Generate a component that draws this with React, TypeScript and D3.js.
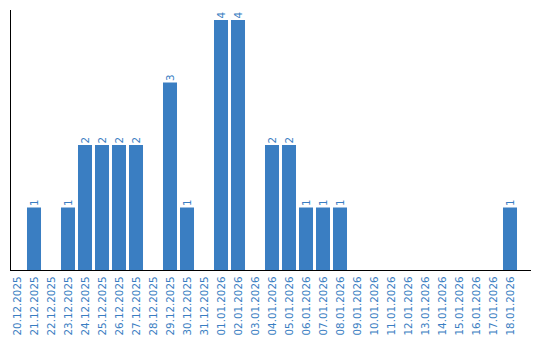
import React from "react";
import * as d3 from "d3";

const dates = [
  "20.12.2025", "21.12.2025", "22.12.2025", "23.12.2025", "24.12.2025",
  "25.12.2025", "26.12.2025", "27.12.2025", "28.12.2025", "29.12.2025",
  "30.12.2025", "31.12.2025", "01.01.2026", "02.01.2026", "03.01.2026",
  "04.01.2026", "05.01.2026", "06.01.2026", "07.01.2026", "08.01.2026",
  "09.01.2026", "10.01.2026", "11.01.2026", "12.01.2026", "13.01.2026",
  "14.01.2026", "15.01.2026", "16.01.2026", "17.01.2026", "18.01.2026",
];
const counts = [
  0, 1, 0, 1, 2,
  2, 2, 2, 0, 3,
  1, 0, 4, 4, 0,
  2, 2, 1, 1, 1,
  0, 0, 0, 0, 0,
  0, 0, 0, 0, 1,
];

const W = 540;
const H = 340;
const BLUE = "#3a7ec2";
const FONT = "DejaVu Sans, Verdana, sans-serif";

export default function App() {
  const x = d3.scaleBand<string>().domain(dates).range([8.5, 518.5]).paddingInner(0.176).paddingOuter(0.088);
  const y = d3.scaleLinear().domain([0, 4]).range([270, 20]);
  const bw = x.bandwidth();
  return (
    <svg width={W} height={H} style={{ position: "absolute", left: 0, top: 0, background: "#fff" }}>
      {dates.map((d, i) => {
        const v = counts[i];
        const cx = (x(d) as number) + bw / 2;
        return (
          <g key={d}>
            {v > 0 && (
              <rect x={x(d)} y={y(v)} width={bw} height={y(0) - y(v)} fill={BLUE} />
            )}
            {v > 0 && (
              <text
                transform={`translate(${cx},${y(v) - 1.5}) rotate(-90)`}
                textAnchor="start"
                dy="0.35em"
                fontFamily={FONT}
                fontSize={10.3}
                fill={BLUE}
              >
                {v}
              </text>
            )}
            <text
              transform={`translate(${cx},276.5) rotate(-90)`}
              textAnchor="end"
              dy="0.35em"
              fontFamily={FONT}
              fontSize={10.3}
              fill={BLUE}
            >
              {d}
            </text>
          </g>
        );
      })}
      <line x1={10.5} x2={10.5} y1={10} y2={270} stroke="#000" strokeWidth={1} />
      <line x1={10} x2={531} y1={270.5} y2={270.5} stroke="#000" strokeWidth={1} />
    </svg>
  );
}
